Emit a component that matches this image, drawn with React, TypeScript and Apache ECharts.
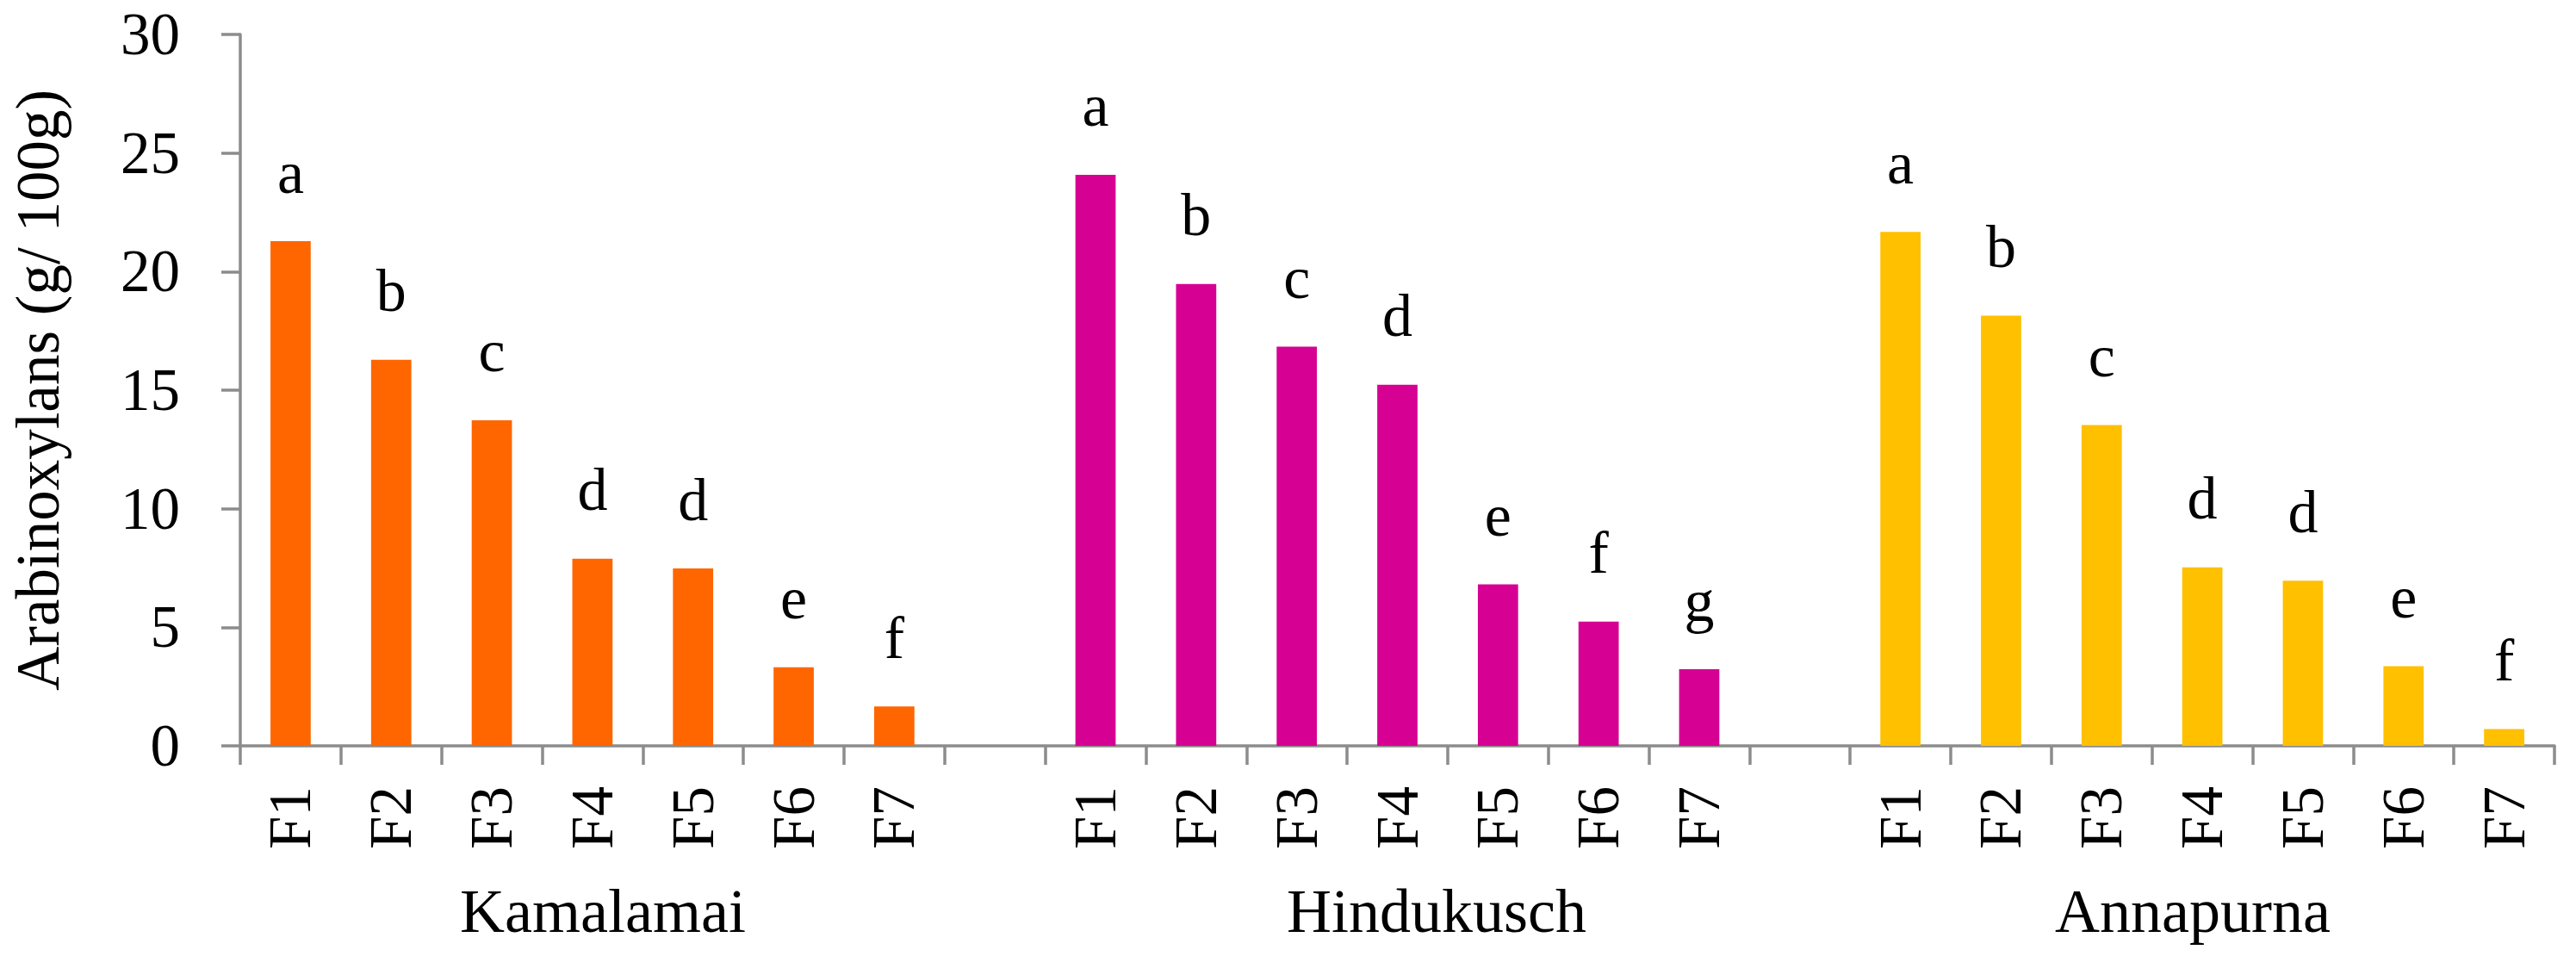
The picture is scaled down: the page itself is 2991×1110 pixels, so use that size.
import React, { useEffect, useRef } from "react";
import * as echarts from "echarts";

const groups = ["Kamalamai", "Hindukusch", "Annapurna"];
const fractions = ["F1", "F2", "F3", "F4", "F5", "F6", "F7"];
const kamalamai = [21.28, 16.28, 13.73, 7.89, 7.48, 3.31, 1.66];
const hindukusch = [24.08, 19.48, 16.83, 15.23, 6.81, 5.24, 3.23];
const annapurna = [21.67, 18.14, 13.53, 7.53, 6.96, 3.36, 0.71];
const kamalamaiLetters = ["a", "b", "c", "d", "d", "e", "f"];
const hindukuschLetters = ["a", "b", "c", "d", "e", "f", "g"];
const annapurnaLetters = ["a", "b", "c", "d", "d", "e", "f"];
const colors = ["#FF6600", "#D60093", "#FFC000"];
const yTicks = { min: 0, max: 30, interval: 5 };

const FONT = "'Liberation Serif', 'Times New Roman', serif";

export default function App() {
  const ref = useRef<HTMLDivElement>(null);
  useEffect(() => {
    if (!ref.current) return;
    const chart = echarts.init(ref.current, undefined, { renderer: "svg" });
    const categories: string[] = [...fractions, "", ...fractions, "", ...fractions];
    const empty = fractions.map(() => "-");
    const seriesValues = [
      [...kamalamai, "-", ...empty, "-", ...empty],
      [...empty, "-", ...hindukusch, "-", ...empty],
      [...empty, "-", ...empty, "-", ...annapurna],
    ];
    const letters = [kamalamaiLetters, hindukuschLetters, annapurnaLetters];
    const axisColor = "#8C8C8C";
    const groupFont = `72px ${FONT}`;
    chart.setOption({
      animation: false,
      backgroundColor: "#ffffff",
      grid: { left: 278, right: 25, top: 40, bottom: 244, containLabel: false },
      xAxis: {
        type: "category",
        data: categories,
        axisLine: { show: true, lineStyle: { color: axisColor, width: 3.5 } },
        axisTick: { show: true, interval: 0, length: 22, lineStyle: { color: axisColor, width: 3.5 } },
        axisLabel: {
          interval: 0,
          rotate: 90,
          margin: 47,
          fontSize: 69,
          fontFamily: FONT,
          color: "#000",
        },
        splitLine: { show: false },
      },
      yAxis: {
        type: "value",
        min: yTicks.min,
        max: yTicks.max,
        interval: yTicks.interval,
        name: "Arabinoxylans (g/ 100g)",
        nameLocation: "middle",
        nameGap: 200,
        nameTextStyle: { fontSize: 71, fontFamily: FONT, color: "#000" },
        axisLine: { show: true, lineStyle: { color: axisColor, width: 3.5 } },
        axisTick: { show: true, length: 22, lineStyle: { color: axisColor, width: 3.5 } },
        axisLabel: { margin: 70, fontSize: 69, fontFamily: FONT, color: "#000" },
        splitLine: { show: false },
      },
      series: groups.map((g, gi) => ({
        name: g,
        type: "bar",
        stack: "all",
        barWidth: "40%",
        data: seriesValues[gi],
        itemStyle: { color: colors[gi] },
        label: {
          show: true,
          position: "top",
          distance: 45,
          fontSize: 70,
          fontFamily: FONT,
          color: "#000",
          formatter: (p: any) => letters[gi][p.dataIndex - gi * 8] ?? "",
        },
      })),
      graphic: [
        { type: "text", x: 700, y: 1058, style: { text: groups[0], font: groupFont, fill: "#000", align: "center", verticalAlign: "middle" } },
        { type: "text", x: 1668, y: 1058, style: { text: groups[1], font: groupFont, fill: "#000", align: "center", verticalAlign: "middle" } },
        { type: "text", x: 2546, y: 1058, style: { text: groups[2], font: groupFont, fill: "#000", align: "center", verticalAlign: "middle" } },
      ],
    });
    return () => chart.dispose();
  }, []);
  return (
    <div
      ref={ref}
      style={{ position: "fixed", left: 0, top: 0, width: 2991, height: 1110, background: "#fff" }}
    />
  );
}
